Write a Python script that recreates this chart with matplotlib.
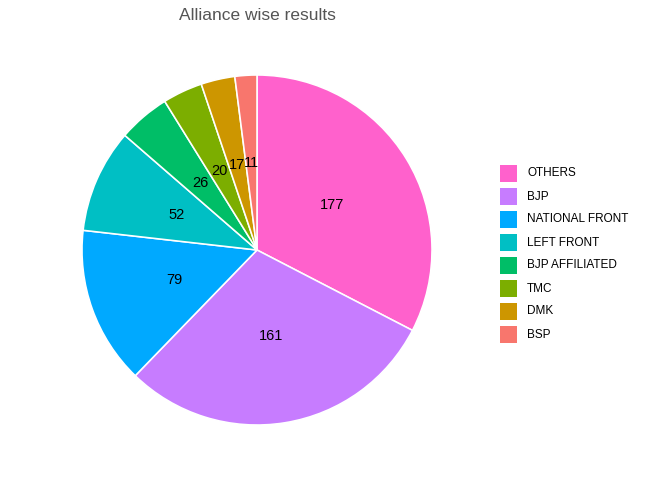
import matplotlib
matplotlib.use('Agg')
import matplotlib.pyplot as plt
from matplotlib.patches import Rectangle

plt.rcParams['font.family'] = ['Liberation Sans', 'DejaVu Sans']

# data, in drawing order (clockwise from 12 o'clock)
parties = ['OTHERS', 'BJP', 'NATIONAL FRONT', 'LEFT FRONT',
           'BJP AFFILIATED', 'TMC', 'DMK', 'BSP']
seats = [177, 161, 79, 52, 26, 20, 17, 11]
colors = ['#FF61CC', '#C77CFF', '#00A9FF', '#00BFC4',
          '#00BE67', '#7CAE00', '#CD9600', '#F8766D']

W, H = 672, 480
fig = plt.figure(figsize=(W / 96, H / 96), dpi=96)

# pie centred at (257, 250) px with radius 175 px
cx, cy, r = 257, 250, 175
ax = fig.add_axes([(cx - r) / W, (H - cy - r) / H, 2 * r / W, 2 * r / H])
total = sum(seats)
wedges, texts, autotexts = ax.pie(
    seats, colors=colors, startangle=90, counterclock=False, radius=1,
    autopct=lambda p: f'{round(p * total / 100)}', pctdistance=0.5,
    wedgeprops=dict(edgecolor='white', linewidth=1.2),
    textprops=dict(fontsize=11, color='black'))
ax.set_xlim(-1, 1)
ax.set_ylim(-1, 1)
ax.set_aspect('equal')
ax.axis('off')

fig.text(cx / W, 1 - 16 / H, 'Alliance wise results', ha='center', va='center',
         fontsize=13, color='#555555')

# legend drawn by hand to match ggplot layout
lax = fig.add_axes([0, 0, 1, 1])
lax.set_xlim(0, W)
lax.set_ylim(H, 0)
lax.axis('off')
for i, (name, col) in enumerate(zip(parties, colors)):
    y0 = 165 + i * 23
    lax.add_patch(Rectangle((500, y0), 17, 17, facecolor=col, edgecolor='none'))
    lax.text(527, y0 + 8.5, name, va='center', ha='left', fontsize=8.8, color='black')

fig.savefig('out.png', dpi=96)
